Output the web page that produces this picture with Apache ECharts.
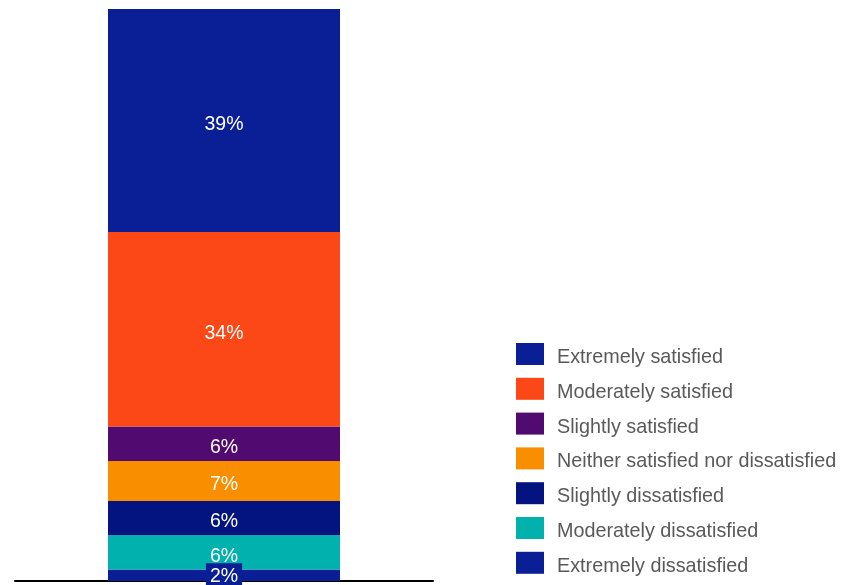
<!DOCTYPE html>
<html>
<head>
<meta charset="utf-8">
<script src="https://cdn.jsdelivr.net/npm/echarts@6/dist/echarts.min.js"></script>
<style>
  html, body { margin: 0; padding: 0; background: #fff; }
  #chart { width: 843px; height: 585px; }
</style>
</head>
<body>
<div id="chart"></div>
<script>
// Satisfaction shares (%), stacked from the bottom up
const categories = ['All respondents'];
const levels = [
  'Extremely dissatisfied',
  'Moderately dissatisfied',
  'Slightly dissatisfied',
  'Neither satisfied nor dissatisfied',
  'Slightly satisfied',
  'Moderately satisfied',
  'Extremely satisfied'
];
const shares = [2, 6, 6, 7, 6, 34, 39];
const colors = ['#0a1f96', '#00b1ad', '#03137f', '#f98e00', '#510b70', '#fc4716', '#0a1f96'];

const chart = echarts.init(document.getElementById('chart'));

const series = levels.map((name, i) => ({
  name: name,
  type: 'bar',
  stack: 'total',
  barWidth: 232,
  data: [shares[i]],
  itemStyle: { color: colors[i] },
  label: {
    show: true,
    position: 'inside',
    formatter: '{c}%',
    color: '#ffffff',
    fontSize: 19.5,
    fontFamily: 'Liberation Sans, Arial, sans-serif',
    // the thin bottom segment gets a filled tag so its label stays readable
    offset: i === 0 ? [0, 1] : [0, 4],
    backgroundColor: i === 0 ? colors[i] : 'transparent',
    padding: i === 0 ? [4, 4, 2, 4] : 0
  },
  emphasis: { disabled: true }
}));

chart.setOption({
  animation: false,
  grid: { left: 15, right: 410, top: 9, bottom: 4, containLabel: false },
  legend: {
    orient: 'vertical',
    left: 516,
    top: 343,
    padding: 0,
    data: levels.slice().reverse(),
    icon: 'rect',
    itemWidth: 28,
    itemHeight: 22,
    itemGap: 10.3,
    formatter: '{t|{name}}',
    textStyle: {
      color: '#595959',
      fontSize: 19.8,
      fontFamily: 'Liberation Sans, Arial, sans-serif',
      padding: [0, 0, 0, 8],
      rich: {
        t: {
          color: '#595959',
          fontSize: 19.8,
          fontFamily: 'Liberation Sans, Arial, sans-serif',
          padding: [7, 0, 0, 0]
        }
      }
    }
  },
  xAxis: {
    type: 'category',
    data: categories,
    axisLine: { lineStyle: { color: '#000000', width: 2 } },
    axisTick: { show: false },
    axisLabel: { show: false }
  },
  yAxis: {
    type: 'value',
    min: 0,
    max: 100,
    show: false
  },
  series: series
});
</script>
</body>
</html>
